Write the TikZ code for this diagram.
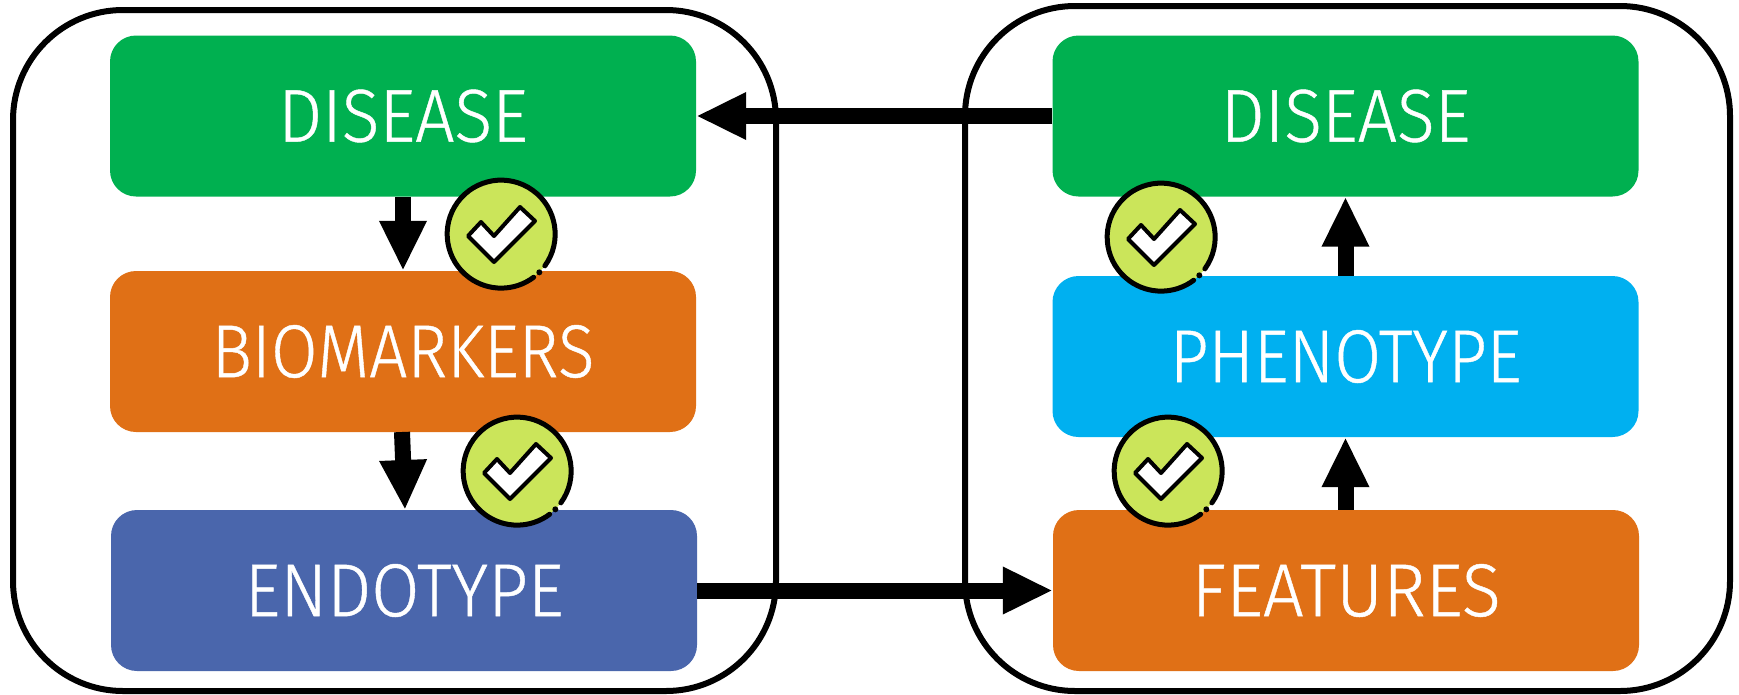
\documentclass[tikz,border=0pt]{standalone}
\usepackage{fontspec}
\newfontfamily\boxfont[FakeBold=0.6]{Fira Sans Light}
\usetikzlibrary{arrows.meta}
\definecolor{cgreen}{HTML}{00B050}
\definecolor{corange}{HTML}{E07016}
\definecolor{cblue}{HTML}{4A66AC}
\definecolor{ccyan}{HTML}{00B0F0}
\definecolor{clime}{HTML}{CBE55A}
\tikzset{
  x=1pt,y=-1pt,
  panel/.style={draw=black,line width=6pt,rounded corners=110pt},
  box/.style={rounded corners=26pt,minimum width=586pt,minimum height=161pt,inner sep=0pt,text=white,font=\boxfont\fontsize{75}{75}\selectfont},
  flow/.style={line width=16pt,-{Triangle[length=50pt,width=44pt]}},
  badge/.style={circle,fill=clime,minimum size=108pt,inner sep=0pt},
  ring/.style={line width=5pt,draw=black},
  tick/.style={line width=4pt,draw=black,fill=white,line join=round},
}
\newcommand{\boxtext}[2]{\scalebox{#1}[1]{#2}}
\newcommand{\badgeat}[3]{%
  \node[badge] (#1) at (#2,#3) {};
  \draw[ring,line cap=round] (#1.-36) arc[start angle=-36,end angle=307,radius=54pt];
  \fill (#1.-45) circle[radius=3pt];
  \draw[tick] ([shift={(-33,2)}]#1.center) -- ([shift={(-20,-12)}]#1.center) -- ([shift={(-7,2)}]#1.center) -- ([shift={(19,-27)}]#1.center) -- ([shift={(34,-13)}]#1.center) -- ([shift={(-7,28)}]#1.center) -- cycle;
}
\begin{document}
\begin{tikzpicture}
\useasboundingbox (0,0) rectangle (1739,694);
\draw[panel] (13,10) rectangle (776,691);
\draw[panel] (965,6) rectangle (1730,691);
\node[box,fill=cgreen] (ld) at (403,116) {\boxtext{0.93}{DISEASE}};
\node[box,fill=corange] (lb) at (403,351.5) {\boxtext{0.90}{BIOMARKERS}};
\node[box,fill=cblue] (le) at (404,590.5) {\boxtext{0.93}{ENDOTYPE}};
\node[box,fill=cgreen] (rd) at (1345.5,116) {\boxtext{0.93}{DISEASE}};
\node[box,fill=ccyan] (rp) at (1345.5,356.5) {\boxtext{0.905}{PHENOTYPE}};
\node[box,fill=corange] (rf) at (1346,590.5) {\boxtext{0.963}{FEATURES}};
\coordinate (a2) at (402,432);
\coordinate (a3) at (405,510);
\draw[flow] (ld.south) -- (lb.north);
\draw[flow] (a2) -- (a3);
\draw[flow] (rp.north) -- (rd.south);
\draw[flow] (rf.north-|rp.north) -- (rp.south);
\draw[flow] (rd.west) -- (ld.east);
\draw[flow] (le.east) -- (rf.west);
\badgeat{b1}{501}{234}
\badgeat{b2}{517}{471}
\badgeat{b3}{1161}{237}
\badgeat{b4}{1168}{471}
\end{tikzpicture}
\end{document}
